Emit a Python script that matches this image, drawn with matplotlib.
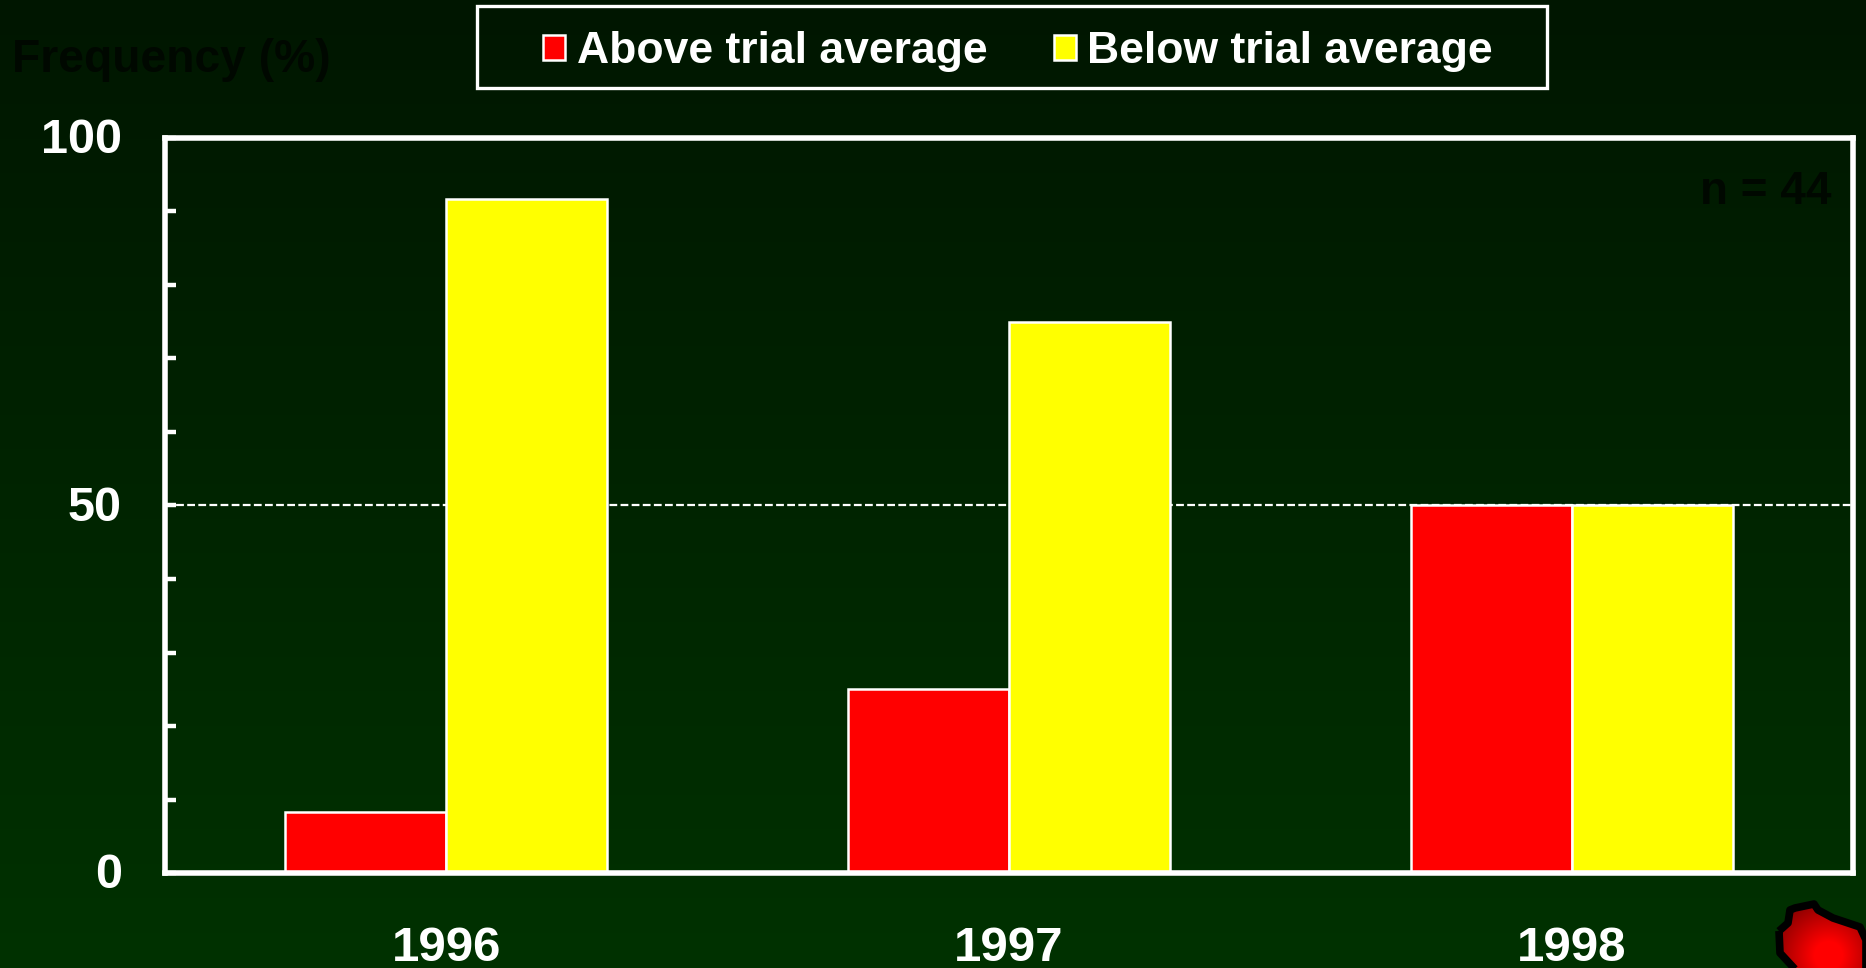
import numpy as np
import matplotlib.pyplot as plt
from matplotlib.patches import Polygon, Rectangle
from matplotlib.transforms import ScaledTranslation

plt.rcParams['font.family'] = ['Liberation Sans', 'DejaVu Sans']
plt.rcParams['font.weight'] = 'bold'

W, H = 1866, 968

# data
years = ['1996', '1997', '1998']
above = [8.33, 25, 50]
below = [91.67, 75, 50]
major_ticks = [0, 50, 100]
minor_ticks = [10, 20, 30, 40, 60, 70, 80, 90]

fig = plt.figure(figsize=(W / 100, H / 100), dpi=100)

# background gradient
bg = fig.add_axes([0, 0, 1, 1], zorder=0)
grad = np.zeros((H, 1, 3))
grad[:, 0, 1] = np.linspace(22, 50, H) / 255
bg.imshow(grad, aspect='auto', extent=[0, W, H, 0])
bg.set_xlim(0, W)
bg.set_ylim(H, 0)
bg.axis('off')

# red blob, bottom right corner
yy, xx = np.mgrid[860:968, 1760:1866]
dist = np.hypot(xx - 1828, yy - 955) / 75
blob = np.zeros((108, 106, 3))
blob[:, :, 0] = np.clip(1.15 - 0.8 * dist, 0, 1)
im = bg.imshow(blob, aspect='auto', extent=[1760, 1866, 968, 860])
outline = Polygon([(1779, 931), (1788, 923), (1790, 910), (1795, 908), (1814, 904),
                   (1818, 910), (1833, 918), (1860, 927), (1866, 940), (1866, 980),
                   (1805, 980), (1780, 953)],
                  closed=True, fc='none', ec='black', lw=5.5, joinstyle='round')
bg.add_patch(outline)
im.set_clip_path(outline)
bg.set_xlim(0, W)
bg.set_ylim(H, 0)

# main chart
ax = fig.add_axes([165 / W, 1 - 873 / H, (1853 - 165) / W, (873 - 138) / H], zorder=1)
ax.patch.set_visible(False)

x = np.arange(len(years)) + 0.5
bw = 0.286
ax.axhline(50, color='white', lw=1.6, ls=(0, (3.5, 1.5)), zorder=1)
b1 = ax.bar(x - bw / 2, above, bw, color='#ff0000', edgecolor='white', lw=1.8, zorder=2,
            label='Above trial average')
b2 = ax.bar(x + bw / 2, below, bw, color='#ffff00', edgecolor='white', lw=1.8, zorder=2,
            label='Below trial average')

ax.set_xlim(0, 3)
ax.set_ylim(0, 100)
ax.set_xticks(x, years)
ax.set_yticks(major_ticks)
ax.set_yticks(minor_ticks, minor=True)
ax.tick_params(axis='x', length=0, pad=38, labelsize=35.5, labelcolor='white')
ax.tick_params(axis='y', which='both', direction='in', length=8, width=3.2, color='white',
               pad=31, labelsize=35, labelcolor='white')
for s in ax.spines.values():
    s.set_color('white')
    s.set_linewidth(4.0)

# y labels sit a little higher than centred
shift = ScaledTranslation(0, 1.5 / 72, fig.dpi_scale_trans)
for lab in ax.get_yticklabels():
    lab.set_transform(lab.get_transform() + shift)

# legend
fig.add_artist(Rectangle((477 / W, 1 - 88 / H), 1070 / W, 82 / H, transform=fig.transFigure,
                         fc='none', ec='white', lw=2.4))
leg = fig.legend(handles=[b1, b2], ncol=2, loc='center', bbox_to_anchor=(1018 / W, 1 - 52 / H),
                 frameon=False, fontsize=32, labelcolor='white', handlelength=0.5,
                 handleheight=0.5, handletextpad=0.25, columnspacing=1.5)

fig.text(12 / W, 1 - 60 / H, 'Frequency (%)', color='#000800', fontsize=33.3, va='center', ha='left')
fig.text(1831 / W, 1 - 191.5 / H, 'n = 44', color='#000800', fontsize=33, va='center', ha='right')

fig.savefig('out.png', dpi=100)
